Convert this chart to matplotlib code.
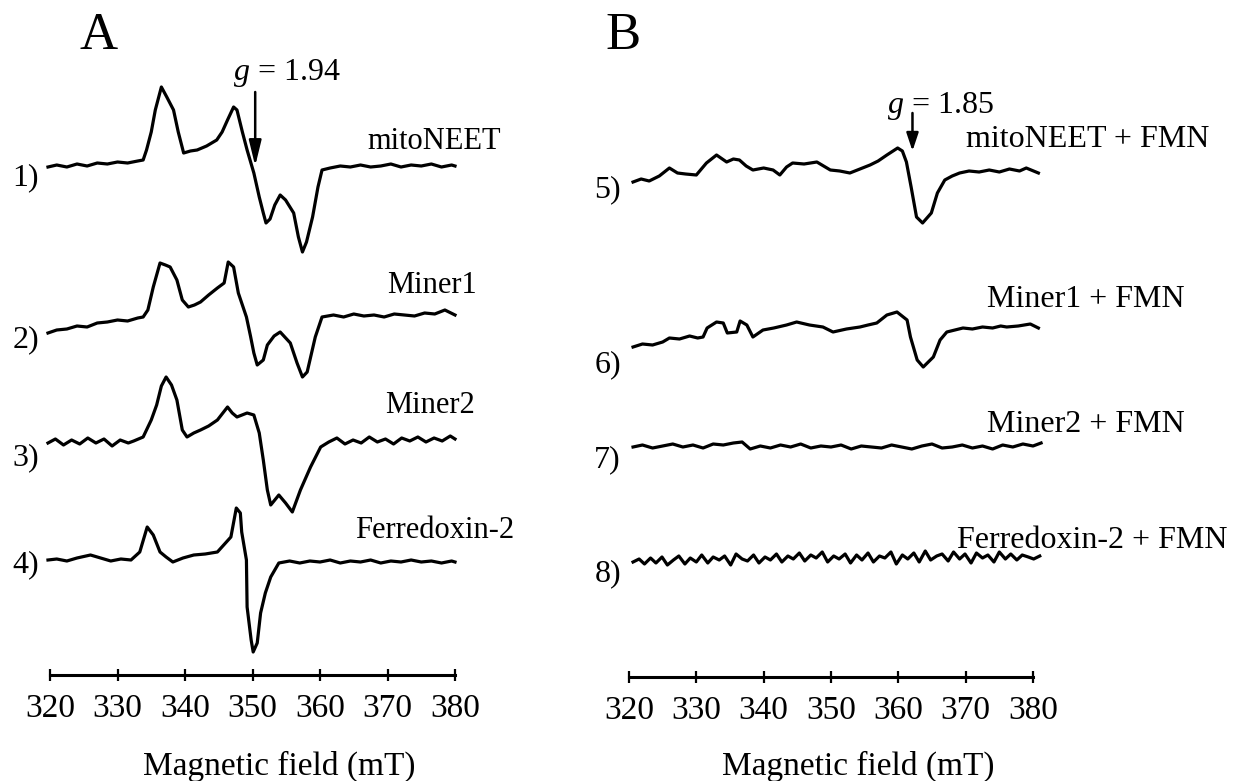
import matplotlib
matplotlib.use("Agg")
import matplotlib.pyplot as plt
import numpy as np

plt.rcParams['font.family'] = ['Liberation Serif', 'DejaVu Serif']
plt.rcParams['mathtext.fontset'] = 'custom'
plt.rcParams['mathtext.it'] = 'Liberation Serif:italic'
plt.rcParams['mathtext.rm'] = 'Liberation Serif'

# ---------------- data (field in mT, signal in arbitrary units, up = positive) ----------------
field_ticks = [320, 330, 340, 350, 360, 370, 380]
tick_labels = ["320", "330", "340", "350", "360", "370", "380"]

# Panel A
t1_field = [319.7, 321, 322.5, 324, 325.5, 327, 328.5, 330, 331.5, 333, 333.8, 334.3, 335.0, 335.6,
            336.5, 337.3, 338.3, 339.0, 339.8, 340.8, 341.8, 343.2, 344.7, 345.5, 346.3, 347.2,
            347.7, 348.5, 349.2, 350.2, 351.0, 351.6, 352.0, 352.6, 353.3, 354.1, 354.9, 356.1,
            356.8, 357.4, 358.0, 358.9, 359.7, 360.3, 361.5, 363, 364.5, 366, 367.5, 369, 370.5,
            372, 373.5, 375, 376.5, 378, 379.5, 380]
t1_sig = [0, 2, 0, 3, 1, 4, 3, 5, 4, 6, 7, 17, 35, 57,
          80, 70, 57, 35, 14, 16, 17, 21, 27, 35, 47, 60,
          57, 35, 17, -6, -30, -46, -56, -52, -38, -28, -33, -46,
          -70, -85, -75, -50, -20, -3, -1, 1, 0, 2, 0, 1, 3,
          0, 2, 1, 3, 0, 2, 1]

t2_field = [319.7, 321, 322.5, 324, 325.5, 327, 328.5, 330, 331.5, 333, 333.8, 334.5, 335.3, 336.3,
            337.1, 337.8, 338.8, 339.6, 340.5, 341.4, 342.3, 343.5, 344.8, 345.8, 346.4, 347.2,
            347.9, 349.1, 349.7, 350.2, 350.7, 351.6, 352.2, 353.2, 354.1, 355.6, 356.6, 357.4,
            358.1, 359.3, 360.3, 362, 363.5, 365, 366.5, 368, 369.5, 371, 372.5, 374, 375.5,
            377, 378.5, 380]
t2_sig = [0, 3, 4, 7, 6, 10, 11, 13, 12, 15, 16, 23, 46, 70,
          68, 66, 53, 33, 26, 28, 31, 38, 45, 50, 71, 66,
          40, 16, -3, -20, -32, -27, -12, -3, 1, -10, -30, -44,
          -39, -4, 16, 18, 16, 19, 17, 18, 16, 19, 18, 17, 20,
          19, 23, 18]

t3_field = [319.7, 320.8, 322, 323.2, 324.4, 325.6, 326.8, 328, 329.2, 330.4, 331.6, 332.4, 333.8,
            335.0, 335.8, 336.5, 337.2, 338.0, 338.8, 339.6, 340.3, 341.3, 342.3, 343.5, 344.8,
            346.3, 347.0, 347.7, 349.2, 350.2, 351.0, 351.6, 352.2, 352.7, 353.3, 353.9, 354.9,
            355.9, 357.1, 358.6, 360.1, 361.3, 362.5, 363.7, 364.9, 366.1, 367.3, 368.5, 369.7,
            370.9, 372.1, 373.3, 374.5, 375.7, 376.9, 378.1, 379.3, 380]
t3_sig = [0, 4, -2, 3, -1, 5, 0, 4, -3, 3, 0, 2, 6,
          23, 38, 57, 66, 58, 43, 13, 6, 10, 13, 17, 23,
          36, 30, 26, 30, 28, 10, -17, -47, -62, -57, -52, -60,
          -69, -47, -24, -4, 1, 5, -1, 3, 0, 6, 1, 4, -1, 5,
          2, 6, 1, 5, 2, 7, 4]

t4_field = [319.7, 321, 322.5, 324, 326, 327.5, 329, 330.5, 332, 333.3, 334.4, 335.3, 336.3, 337.2,
            338.2, 339.7, 341.3, 343, 344.8, 346.8, 347.6, 348.2, 348.4, 349.1, 349.2, 349.8,
            350.1, 350.7, 351.2, 351.9, 352.7, 353.9, 355.5, 357, 358.5, 360, 361.5, 363, 364.5,
            366, 367.5, 369, 370.5, 372, 373.5, 375, 376.5, 378, 379.5, 380]
t4_sig = [0, 1, -1, 2, 5, 2, -1, 1, 0, 8, 33, 25, 8, 3,
          -2, 2, 5, 6, 8, 23, 52, 47, 28, 0, -47, -80,
          -92, -83, -53, -33, -17, -3, -1, -3, -1, -2, 0, -3, -1,
          -2, 0, -3, -1, -2, 0, -2, -1, -3, -1, -2]

# Panel B
t5_field = [320.6, 321.8, 323, 324.5, 326, 327.2, 328.4, 330, 331.5, 333, 334.5, 335.5, 336.4,
            337.4, 338.4, 340, 341.4, 342.4, 343.4, 344.3, 346, 347.9, 348.9, 349.9, 351.3,
            352.8, 354.3, 355.8, 357, 358.3, 359.9, 360.6, 361.2, 361.9, 362.7, 363.6, 364.9,
            365.8, 366.9, 368, 369.1, 370.5, 372, 373.5, 375, 376.5, 378, 379, 380.8]
t5_sig = [0, 3, 1, 6, 14, 9, 8, 7, 19, 27, 20, 23, 22,
          16, 12, 14, 12, 7, 15, 19, 18, 20, 16, 12, 11,
          9, 13, 17, 21, 27, 34, 31, 20, -5, -35, -41, -31,
          -11, 2, 6, 9, 11, 10, 12, 10, 13, 11, 14, 9]

t6_field = [320.6, 322, 323.5, 325, 326, 327.5, 329, 330.2, 331, 331.6, 333, 334, 334.6, 336, 336.5,
            337.5, 338.4, 339.9, 341.5, 343.4, 344.9, 346.8, 348.8, 350.3, 352.3, 354.3, 355.5,
            356.8, 358.3, 359.8, 361.3, 361.8, 362.8, 363.7, 365.2, 366.2, 367.2, 368.4, 369.6,
            371, 372.5, 374, 375.2, 376.1, 377.8, 379.6, 380.8]
t6_sig = [0, 3, 2, 5, 9, 8, 11, 9, 10, 19, 25, 24, 14, 15, 26,
          22, 10, 17, 19, 22, 25, 22, 20, 15, 18, 20, 22,
          24, 32, 35, 27, 10, -13, -20, -10, 7, 15, 17, 19,
          18, 20, 19, 21, 20, 21, 23, 19]

t7_field = [320.6, 322, 323.5, 325, 326.5, 328, 329.5, 331, 332.5, 334, 335.5, 336.8, 338, 339.5,
            341, 342.5, 344, 345.5, 347, 348.5, 350, 351.5, 353, 354.5, 356, 357.5, 359, 360.5,
            362, 363.5, 365, 366.5, 368, 369.5, 371, 372.5, 374, 375.5, 377, 378.5, 380, 381.2]
t7_sig = [0, 2, -1, 1, 3, 0, 2, -1, 3, 2, 4, 5, -2, 1,
          -1, 2, 0, 3, -1, 1, 0, 2, -2, 1, 0, -1, 2, 0,
          -2, 1, 3, -1, 0, 2, -1, 1, -2, 2, 0, 3, 1, 4]

t8_field = [320.6, 321.5, 322.3, 323.2, 324.0, 324.9, 325.7, 326.6, 327.4, 328.3, 329.1, 330.0,
            330.8, 331.7, 332.5, 333.4, 334.2, 335.1, 335.9, 336.8, 337.6, 338.5, 339.3, 340.2,
            341.0, 341.9, 342.7, 343.6, 344.4, 345.3, 346.1, 347.0, 347.8, 348.7, 349.5, 350.4,
            351.2, 352.1, 352.9, 353.8, 354.6, 355.5, 356.3, 357.2, 358.0, 358.9, 359.7, 360.6,
            361.4, 362.3, 363.1, 364.0, 364.8, 365.7, 366.5, 367.4, 368.2, 369.1, 369.9, 370.8,
            371.6, 372.5, 373.3, 374.2, 375.0, 375.9, 376.7, 377.6, 378.4, 379.3, 380.1, 381.0]
t8_sig = [0, 3, -2, 4, -1, 5, -3, 2, 6, -2, 4, 0, 7, -1, 5, 2, 6, -3, 8, 3, 1, 7, -1, 5,
          2, 8, 0, 6, 3, 9, 1, 7, 4, 10, 0, 6, 3, 8, -1, 7, 2, 9, 0, 6, 4, 10, -2, 7,
          3, 9, 0, 11, 2, 6, 8, 1, 10, 3, 8, -1, 9, 4, 7, 0, 10, 3, 8, 2, 7, 5, 3, 6]

panelA = [(t1_field, t1_sig), (t2_field, t2_sig), (t3_field, t3_sig), (t4_field, t4_sig)]
panelB = [(t5_field, t5_sig), (t6_field, t6_sig), (t7_field, t7_sig), (t8_field, t8_sig)]
labelsA = ["mitoNEET", "Miner1", "Miner2", "Ferredoxin-2"]
labelsB = ["mitoNEET + FMN", "Miner1 + FMN", "Miner2 + FMN", "Ferredoxin-2 + FMN"]
numsA = ["1)", "2)", "3)", "4)"]
numsB = ["5)", "6)", "7)", "8)"]

# ---------------- layout (pixels of the 1243x781 canvas, y measured downward) ----------------
W, H = 1243, 781
baseA = [167, 333, 443, 560]
baseB = [182, 347, 447, 562]
axis_yA, axis_yB = 675, 677
xA0, xA1 = 50, 455
xB0, xB1 = 629, 1033

def fx(x):
    return x / W

def fy(y):
    return 1 - y / H

fig = plt.figure(figsize=(W / 100, H / 100), dpi=100)

def make_axes(x0, x1, axis_y):
    ax = fig.add_axes([fx(x0), fy(axis_y), (x1 - x0) / W, axis_y / H])
    ax.set_xlim(320, 380)
    ax.set_ylim(-axis_y, 0)
    for s in ['left', 'right', 'top']:
        ax.spines[s].set_visible(False)
    ax.spines['bottom'].set_linewidth(2.2)
    ax.set_yticks([])
    ax.set_xticks(field_ticks)
    ax.set_xticklabels(tick_labels)
    ax.tick_params(axis='x', direction='inout', length=9, width=1.6, labelsize=24, pad=9)
    ax.patch.set_alpha(0)
    return ax

axA = make_axes(xA0, xA1, axis_yA)
axB = make_axes(xB0, xB1, axis_yB)

for (f, s), b in zip(panelA, baseA):
    axA.plot(f, -b + np.array(s), color='black', lw=2.3, clip_on=False)
for (f, s), b in zip(panelB, baseB):
    axB.plot(f, -b + np.array(s), color='black', lw=2.3, clip_on=False)

# g markers
axA.annotate('', xy=(350.4, -166), xytext=(350.4, -92),
             arrowprops=dict(arrowstyle='-|>,head_width=0.17,head_length=0.7', lw=1.8,
                             color='black', mutation_scale=22, shrinkA=0, shrinkB=0))
axB.annotate('', xy=(362.1, -151), xytext=(362.1, -113),
             arrowprops=dict(arrowstyle='-|>,head_width=0.2,head_length=0.6', lw=1.8,
                             color='black', mutation_scale=18, shrinkA=0, shrinkB=0))
fig.text(fx(233), fy(80), r"$g$ = 1.94", fontsize=23, ha='left', va='baseline')
fig.text(fx(887), fy(113), r"$g$ = 1.85", fontsize=23, ha='left', va='baseline')

# panel letters
fig.text(fx(99), fy(49), "A", fontsize=38, ha='center', va='baseline')
fig.text(fx(623), fy(49), "B", fontsize=38, ha='center', va='baseline')

# trace names (left x, baseline y)
posA = [(367, 149), (387, 293), (385, 413), (355, 538)]
posB = [(966, 147), (987, 307), (987, 432), (957, 548)]
for t, (x, y) in zip(labelsA, posA):
    fig.text(fx(x), fy(y), t, fontsize=22, ha='left', va='baseline')
for t, (x, y) in zip(labelsB, posB):
    fig.text(fx(x), fy(y), t, fontsize=23, ha='left', va='baseline')

# numbers (right x, baseline y)
nyA = [185, 347, 465, 572]
nyB = [197, 372, 467, 581]
for t, y in zip(numsA, nyA):
    fig.text(fx(39), fy(y), t, fontsize=23, ha='right', va='baseline')
for t, y in zip(numsB, nyB):
    fig.text(fx(621), fy(y), t, fontsize=23, ha='right', va='baseline')

# axis titles
fig.text(fx(279), fy(766), "Magnetic field (mT)", fontsize=24, ha='center', va='center')
fig.text(fx(858), fy(766), "Magnetic field (mT)", fontsize=24, ha='center', va='center')

fig.savefig("out.png", dpi=100, facecolor='white')
